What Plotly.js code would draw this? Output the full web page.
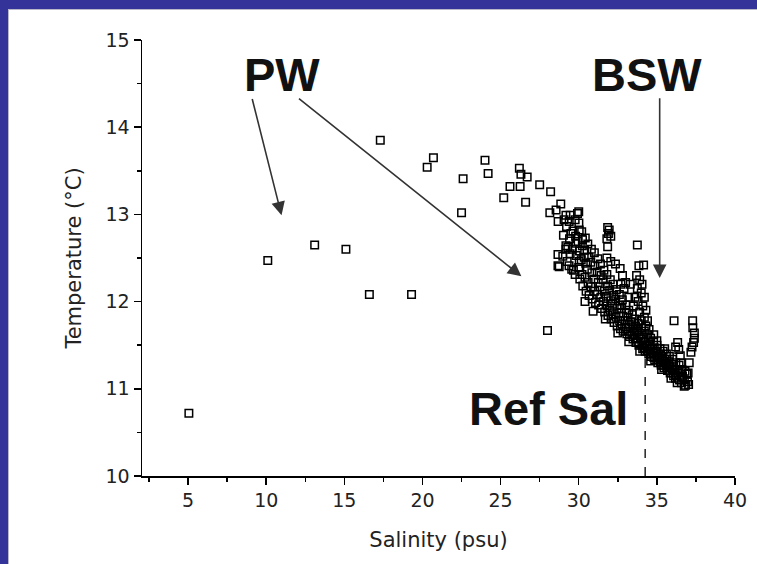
<!DOCTYPE html>
<html>
<head>
<meta charset="utf-8">
<script src="https://cdn.plot.ly/plotly-3.0.1.min.js"></script>
<style>
  html, body { margin: 0; padding: 0; background: #ffffff; }
  #wrap { position: relative; width: 757px; height: 564px; overflow: hidden; }
  #chart { position: absolute; left: 0; top: 0; width: 757px; height: 564px; }
  .band { position: absolute; background: #333399; }
  .edge { position: absolute; background: #b8b8c8; }
</style>
</head>
<body>
<div id="wrap">
  <div id="chart"></div>
  <div class="band" style="left:0;top:0;width:757px;height:9px;"></div>
  <div class="band" style="left:0;top:0;width:8px;height:564px;"></div>
  <div class="edge" style="left:8px;top:9px;width:749px;height:1px;"></div>
  <div class="edge" style="left:8px;top:9px;width:1px;height:555px;"></div>
</div>
<script>
// ---- data (Salinity psu, Temperature °C) ----
const sparseSal = [5.05, 10.1, 13.1, 15.1, 16.6, 19.3, 17.3, 20.7, 20.3, 22.6, 22.5, 24.0, 24.2, 25.2, 25.6, 26.2, 26.3, 26.7, 26.25, 26.6, 27.5, 28.2, 28.0];
const sparseTemp = [10.72, 12.47, 12.65, 12.6, 12.08, 12.08, 13.85, 13.65, 13.54, 13.41, 13.02, 13.62, 13.47, 13.19, 13.32, 13.53, 13.46, 13.43, 13.32, 13.14, 13.34, 13.26, 11.67];

const edgeSal = [28.85, 28.55, 28.15, 28.68, 29.06, 29.45, 30.0, 28.67, 28.67, 29.3, 29.55, 30.4, 30.92, 29.18, 29.39, 29.77, 29.92, 29.5, 30.03, 30.24, 29.82, 29.18, 28.75, 30.35, 30.03];
const edgeTemp = [13.12, 13.05, 13.02, 12.92, 12.94, 12.99, 13.03, 12.54, 12.41, 12.62, 12.37, 12.0, 11.89, 12.99, 12.92, 12.94, 13.01, 12.78, 12.82, 12.71, 12.67, 12.6, 12.4, 12.51, 12.46];

const bandSal = [
  29.02, 28.98,
  29.22, 29.18, 29.26,
  29.41, 29.45, 29.38,
  29.63, 29.59, 29.66,
  29.8, 29.84, 29.77,
  30.01, 29.96, 30.05, 30.0, 30.07,
  30.19, 30.23, 30.16, 30.21, 30.26,
  30.42, 30.38, 30.45, 30.4, 30.47,
  30.58, 30.62, 30.55, 30.6, 30.66,
  30.81, 30.77, 30.84, 30.79, 30.86,
  31.0, 31.04, 30.97, 31.02, 31.07,
  31.22, 31.18, 31.25, 31.2, 31.27,
  31.39, 31.43, 31.36, 31.41, 31.46,
  31.61, 31.57, 31.64, 31.59, 31.66,
  31.8, 31.84, 31.77, 31.82, 31.87,
  32.02, 31.98, 32.05, 32.0, 32.07,
  32.19, 32.23, 32.16, 32.21, 32.26,
  32.41, 32.37, 32.44, 32.39, 32.46,
  32.6, 32.64, 32.57, 32.62, 32.67,
  32.79, 32.75, 32.82, 32.77, 32.84,
  33.01, 33.05, 32.98, 33.03, 33.08,
  33.2, 33.16, 33.23, 33.18, 33.25,
  33.42, 33.38, 33.45, 33.4, 33.47,
  33.59, 33.63, 33.56, 33.61, 33.66,
  33.8, 33.76, 33.83, 33.78, 33.85,
  34.02, 34.06, 33.99, 34.04, 34.09,
  34.2, 34.16, 34.23, 34.18, 34.25,
  34.41, 34.45, 34.38, 34.43, 34.48,
  34.6, 34.56, 34.63, 34.58, 34.65,
  34.79, 34.83, 34.76, 34.81, 34.86,
  35.01, 34.97, 35.04, 34.99, 35.06,
  35.2, 35.24, 35.17, 35.22, 35.27,
  35.4, 35.36, 35.43, 35.38, 35.45,
  35.61, 35.65, 35.58, 35.63, 35.68,
  35.8, 35.76, 35.83, 35.78, 35.85,
  36.0, 36.04, 35.97, 36.02, 36.07,
  36.21, 36.17, 36.24, 36.19,
  36.42, 36.38, 36.45,
  36.6, 36.64, 36.57,
  36.8, 36.76, 36.83,
  37.0, 36.96, 37.03
];
const bandTemp = [
  12.76, 12.52,
  12.86, 12.64, 12.46,
  12.72, 12.55, 12.41,
  12.81, 12.6, 12.36,
  12.75, 12.53, 12.31,
  12.9, 12.69, 12.58, 12.39, 12.26,
  12.8, 12.64, 12.48, 12.31, 12.18,
  12.73, 12.59, 12.44, 12.28, 12.12,
  12.66, 12.51, 12.37, 12.22, 12.07,
  12.6, 12.45, 12.33, 12.17, 12.03,
  12.56, 12.41, 12.26, 12.12, 11.99,
  12.49, 12.34, 12.22, 12.08, 11.96,
  12.43, 12.3, 12.17, 12.05, 11.92,
  12.36, 12.25, 12.12, 12.0, 11.88,
  12.31, 12.18, 12.06, 11.95, 11.84,
  12.25, 12.13, 12.01, 11.9, 11.8,
  12.2, 12.07, 11.97, 11.86, 11.76,
  12.14, 12.03, 11.92, 11.82, 11.72,
  12.08, 11.96, 11.87, 11.78, 11.69,
  12.02, 11.92, 11.83, 11.74, 11.66,
  11.96, 11.87, 11.78, 11.71, 11.63,
  11.9, 11.82, 11.74, 11.66, 11.6,
  11.85, 11.77, 11.7, 11.62, 11.57,
  11.8, 11.72, 11.65, 11.58, 11.53,
  11.75, 11.68, 11.61, 11.54, 11.5,
  11.7, 11.63, 11.57, 11.5, 11.46,
  11.66, 11.59, 11.53, 11.47, 11.43,
  11.62, 11.55, 11.49, 11.43, 11.4,
  11.58, 11.51, 11.45, 11.4, 11.37,
  11.54, 11.47, 11.41, 11.36, 11.33,
  11.5, 11.43, 11.38, 11.33, 11.3,
  11.46, 11.4, 11.35, 11.3, 11.27,
  11.43, 11.37, 11.32, 11.27, 11.24,
  11.4, 11.34, 11.29, 11.24, 11.21,
  11.37, 11.31, 11.26, 11.21, 11.18,
  11.34, 11.28, 11.23, 11.18, 11.15,
  11.3, 11.22, 11.16, 11.12,
  11.27, 11.18, 11.1,
  11.22, 11.14, 11.07,
  11.2, 11.1, 11.04,
  11.18, 11.08, 11.05
];

const branchSal = [31.85, 31.95, 31.9, 32.05, 31.8, 31.85, 31.8, 32.05, 32.35, 32.65, 32.8, 33.0,
  33.75, 36.1,
  33.85, 34.15, 33.7, 33.9, 34.05, 33.75, 34.0, 34.2, 33.8, 34.1, 34.3, 33.9, 34.2, 34.4, 34.0, 34.3, 33.6, 33.5, 34.5,
  32.9, 33.2, 33.3, 32.7,
  37.29, 37.4, 37.35, 37.18, 37.07, 36.92, 36.75, 37.3, 37.4, 37.25,
  36.33, 36.4, 36.5, 36.55, 36.6, 36.2,
  35.0, 35.5, 34.8, 35.3, 35.9, 36.3, 34.6, 33.9, 33.2, 32.5, 31.7];
const branchTemp = [12.85, 12.82, 12.78, 12.75, 12.72, 12.63, 12.5, 12.46, 12.43, 12.38, 12.3, 12.22,
  12.65, 11.78,
  12.41, 12.42, 12.3, 12.25, 12.2, 12.15, 12.1, 12.05, 12.0, 11.95, 11.9, 11.88, 11.82, 11.78, 11.78, 11.72, 12.05, 11.95, 11.68,
  12.15, 12.05, 12.2, 12.2,
  11.78, 11.64, 11.53, 11.42, 11.3, 11.17, 11.03, 11.7, 11.58, 11.48,
  11.53, 11.45, 11.38, 11.3, 11.2, 11.48,
  11.55, 11.46, 11.62, 11.22, 11.12, 11.07, 11.32, 11.43, 11.54, 11.64, 11.8];

const xTicks = [5, 10, 15, 20, 25, 30, 35, 40];
const yTicks = [10, 11, 12, 13, 14, 15];
const refSal = 34.25;
const refLineTop = 11.36;

// annotation labels and arrow endpoints (data units)
const labels = [
  {text: 'PW', x: 11.02, y: 14.6},
  {text: 'BSW', x: 34.34, y: 14.6},
  {text: 'Ref Sal', x: 28.08, y: 10.77}
];
const arrows = [
  {fromX: 9.08, fromY: 14.34, toX: 10.98, toY: 12.99},
  {fromX: 12.0, fromY: 14.34, toX: 26.33, toY: 12.29},
  {fromX: 35.18, fromY: 14.35, toX: 35.18, toY: 12.27}
];

const salinity = sparseSal.concat(edgeSal, bandSal, branchSal);
const temperature = sparseTemp.concat(edgeTemp, bandTemp, branchTemp);

const tickFont = {family: 'DejaVu Sans, sans-serif', size: 19, color: '#222'};
const titleFont = {family: 'DejaVu Sans, sans-serif', size: 21, color: '#222'};

const trace = {
  type: 'scatter',
  mode: 'markers',
  x: salinity,
  y: temperature,
  marker: {symbol: 'square-open', size: 7.5, color: '#000', line: {color: '#000', width: 1.5}},
  cliponaxis: false,
  hoverinfo: 'skip'
};

const annotations = labels.map(l => ({
  x: l.x, y: l.y, xref: 'x', yref: 'y',
  text: '<b>' + l.text + '</b>', showarrow: false,
  xanchor: 'center', yanchor: 'middle',
  font: {family: 'Liberation Sans, Arial, sans-serif', size: 47, color: '#111'}
})).concat(arrows.map(a => ({
  x: a.toX, y: a.toY, ax: a.fromX, ay: a.fromY,
  xref: 'x', yref: 'y', axref: 'x', ayref: 'y',
  text: '', showarrow: true, arrowhead: 2, arrowsize: 1.7, arrowwidth: 1.6,
  arrowcolor: '#333', standoff: 0, startstandoff: 0
})));

const axisCommon = {
  showgrid: false, zeroline: false, showline: true,
  linecolor: '#000', linewidth: 1.5,
  ticks: 'outside', ticklen: 7, tickwidth: 1.5, tickcolor: '#000',
  tickfont: tickFont, mirror: false, fixedrange: true
};

const layout = {
  width: 757, height: 564,
  margin: {l: 142, r: 22, t: 40, b: 88, pad: 0},
  paper_bgcolor: '#ffffff', plot_bgcolor: '#ffffff',
  showlegend: false,
  xaxis: Object.assign({}, axisCommon, {
    range: [2.05, 40], tickmode: 'array', tickvals: xTicks, ticktext: xTicks.map(String),
    minor: {ticks: 'outside', ticklen: 4, tickwidth: 1.5, tickcolor: '#000', dtick: 2.5, tick0: 0},
    title: {text: 'Salinity (psu)', font: titleFont, standoff: 22}
  }),
  yaxis: Object.assign({}, axisCommon, {
    range: [10, 15], tickmode: 'array', tickvals: yTicks, ticktext: yTicks.map(String),
    minor: {ticks: 'outside', ticklen: 4, tickwidth: 1.5, tickcolor: '#000', dtick: 0.5, tick0: 0},
    title: {text: 'Temperature (°C)', font: titleFont, standoff: 18}
  }),
  shapes: [{
    type: 'line', xref: 'x', yref: 'y',
    x0: refSal, x1: refSal, y0: 10, y1: refLineTop,
    line: {color: '#000', width: 1.3, dash: 'dash'}, layer: 'below'
  }],
  annotations: annotations
};

Plotly.newPlot('chart', [trace], layout, {staticPlot: true, displayModeBar: false});
</script>
</body>
</html>
